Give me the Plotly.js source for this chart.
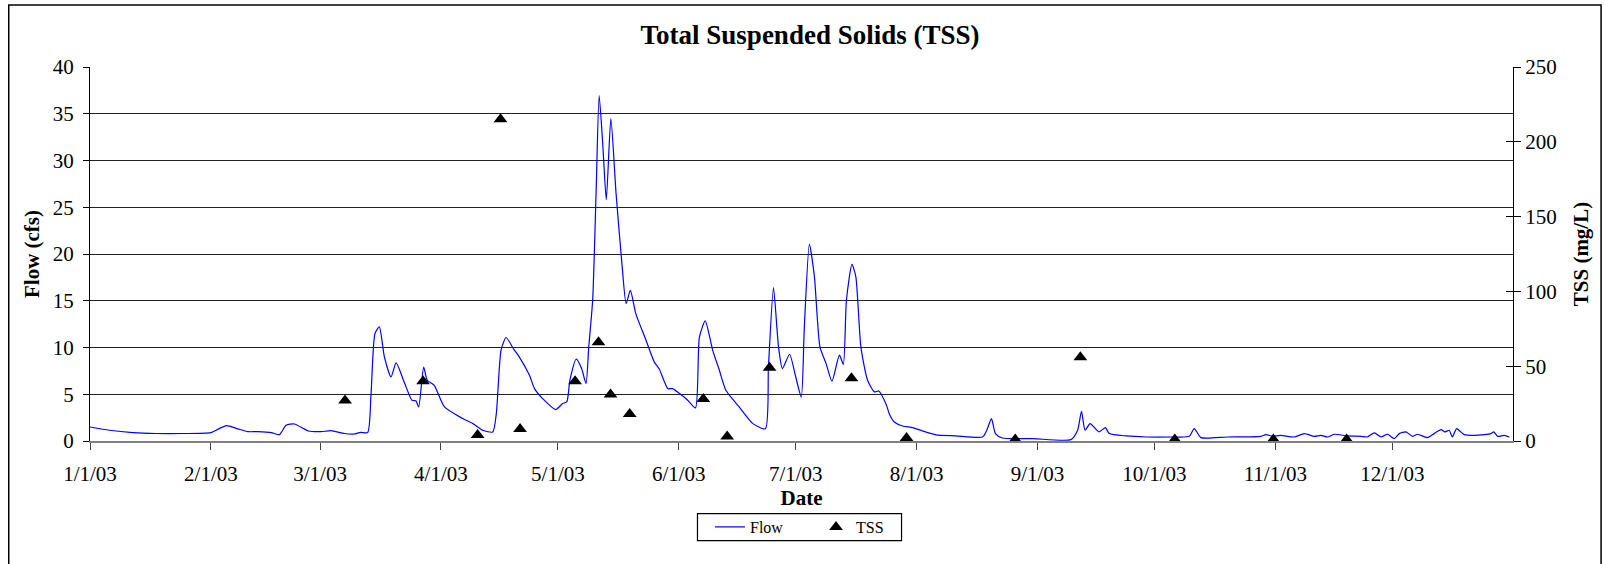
<!DOCTYPE html>
<html>
<head>
<meta charset="utf-8">
<script src="https://cdn.plot.ly/plotly-3.0.1.min.js"></script>
<style>html,body{margin:0;padding:0;background:#fff;}#chart{width:1604px;height:564px;}</style>
</head>
<body>
<div id="chart"></div>
<script>
// Daily flow (cfs)
const flowDates = [
"2003-01-01","2003-01-06","2003-01-12","2003-01-18","2003-01-25",
"2003-02-01","2003-02-03","2003-02-05","2003-02-07 22:00","2003-02-10 12:00","2003-02-13","2003-02-16 12:00","2003-02-18 14:00","2003-02-20 07:00","2003-02-22 10:00","2003-02-26",
"2003-03-01 07:00","2003-03-03 19:00","2003-03-07 07:00","2003-03-09 19:00","2003-03-11 10:00","2003-03-13 05:00","2003-03-14 02:00","2003-03-15 02:00","2003-03-16 05:00","2003-03-17 12:00","2003-03-19 05:00","2003-03-20 12:00","2003-03-22 14:00","2003-03-24 14:00","2003-03-25 14:00","2003-03-26 07:00","2003-03-27 14:00","2003-03-28 12:00","2003-03-30 07:00",
"2003-04-01 22:00","2003-04-06 14:00","2003-04-09 05:00","2003-04-11 17:00","2003-04-14 07:00","2003-04-15 05:00","2003-04-16 10:00","2003-04-17 17:00","2003-04-19 17:00","2003-04-21 02:00","2003-04-23 17:00","2003-04-25","2003-04-27 02:00","2003-04-30 10:00",
"2003-05-02 05:00","2003-05-03 07:00","2003-05-04 02:00","2003-05-05 17:00","2003-05-07 02:00","2003-05-08 05:00","2003-05-08 22:00","2003-05-09 22:00","2003-05-10 19:00","2003-05-11 14:00","2003-05-12 12:00","2003-05-13 10:00","2003-05-14 14:00","2003-05-15 22:00","2003-05-17 12:00","2003-05-18 12:00","2003-05-19 14:00","2003-05-21","2003-05-23 14:00","2003-05-25 17:00","2003-05-27","2003-05-29 05:00","2003-05-30 10:00",
"2003-06-01 05:00","2003-06-03 07:00","2003-06-05 07:00","2003-06-06 07:00","2003-06-07 19:00","2003-06-09 17:00","2003-06-11 10:00","2003-06-13 02:00","2003-06-16 12:00","2003-06-20","2003-06-23 05:00","2003-06-24","2003-06-25 07:00","2003-06-26 14:00","2003-06-27 14:00","2003-06-29 10:00",
"2003-07-01","2003-07-02 10:00","2003-07-03 05:00","2003-07-04 12:00","2003-07-05 19:00","2003-07-07 05:00","2003-07-08 19:00","2003-07-10 07:00","2003-07-12 05:00","2003-07-13 05:00","2003-07-14","2003-07-15 10:00","2003-07-16 10:00","2003-07-17 17:00","2003-07-19 10:00","2003-07-21 05:00","2003-07-22 07:00","2003-07-24 05:00","2003-07-25","2003-07-26 07:00","2003-07-28 10:00","2003-07-31",
"2003-08-02 12:00","2003-08-06","2003-08-11","2003-08-17 22:00","2003-08-19","2003-08-20 05:00","2003-08-21 05:00","2003-08-23","2003-08-30 22:00",
"2003-09-09 14:00","2003-09-11 07:00","2003-09-12 07:00","2003-09-13 05:00","2003-09-14 12:00","2003-09-16 19:00","2003-09-18 10:00","2003-09-19 10:00","2003-09-23 17:00","2003-09-28 19:00",
"2003-10-05 14:00","2003-10-09 22:00","2003-10-11 05:00","2003-10-12 22:00","2003-10-19 17:00","2003-10-28 07:00","2003-10-29 14:00","2003-10-31 07:00",
"2003-11-02 10:00","2003-11-05 19:00","2003-11-08 10:00","2003-11-11","2003-11-12 17:00","2003-11-14 10:00","2003-11-16 02:00","2003-11-19 12:00","2003-11-22 22:00","2003-11-24 14:00","2003-11-26 10:00","2003-11-28 02:00","2003-11-29 19:00",
"2003-12-01 12:00","2003-12-02 19:00","2003-12-04 12:00","2003-12-06 05:00","2003-12-07 12:00","2003-12-10","2003-12-11 17:00","2003-12-13 12:00","2003-12-14 12:00","2003-12-15 14:00","2003-12-16 10:00","2003-12-17 12:00","2003-12-19 10:00","2003-12-22","2003-12-24 14:00","2003-12-26 07:00","2003-12-27","2003-12-28","2003-12-29 17:00","2003-12-31"
];
const flowValues = [
1.5,1.15,0.9,0.8,0.8,
0.9,1.3,1.65,1.3,1.0,1.0,0.9,0.68,1.68,1.82,1.07,
1.0,1.1,0.8,0.75,0.93,0.9,5.07,11.5,12.2,9.0,6.85,8.35,6.3,4.36,4.3,3.64,7.9,6.5,5.96,
3.64,2.4,1.86,1.15,0.97,2.93,9.7,11.07,9.8,9.0,7.03,5.6,4.54,3.36,
4.0,4.2,6.5,8.75,7.75,6.14,10.07,15.06,26.5,36.94,31.8,25.8,34.5,26.5,18.6,14.7,16.1,13.6,10.8,8.46,7.7,5.6,5.6,
5.07,4.36,3.54,11.1,12.85,9.7,7.57,5.43,3.64,1.86,1.3,7.9,16.4,10.07,7.75,9.28,
6.85,4.7,12.2,21.06,17.56,10.07,8.28,6.4,9.18,8.2,15.06,18.9,17.56,10.07,6.5,5.25,5.35,3.9,2.9,2.03,1.6,1.43,
1.07,0.65,0.55,0.43,1.15,2.4,0.79,0.32,0.25,
0.15,1.15,3.18,1.15,1.86,0.97,1.43,0.79,0.54,0.43,
0.43,0.5,1.33,0.36,0.43,0.5,0.68,0.5,
0.6,0.43,0.79,0.5,0.6,0.43,0.72,0.54,0.5,0.43,0.86,0.43,0.72,
0.25,0.79,0.97,0.5,0.72,0.36,0.79,1.22,0.97,1.15,0.43,1.33,0.68,0.6,0.68,0.79,0.97,0.5,0.6,0.43
];
// TSS samples (mg/L)
const tssDates = ["2003-03-07 10:00","2003-03-27 10:00","2003-04-10 10:00","2003-04-16 07:00","2003-04-21 07:00","2003-05-05 10:00","2003-05-11 10:00","2003-05-14 12:00","2003-05-19 10:00","2003-06-07 07:00","2003-06-13 10:00","2003-06-24 07:00","2003-07-15 07:00","2003-07-29 10:00","2003-08-26 07:00","2003-09-12","2003-10-06 05:00","2003-10-31 12:00","2003-11-19 07:00"];
const tssValues = [27,40,4,215,8,40,66,31,18,28,3,49,42,2,1,56,1,1,1];
// Axis ticks
const monthTicks = ["2003-01-01","2003-02-01","2003-03-01","2003-04-01","2003-05-01","2003-06-01","2003-07-01","2003-08-01","2003-09-01","2003-10-01","2003-11-01","2003-12-01"];
const monthLabels = ["1/1/03","2/1/03","3/1/03","4/1/03","5/1/03","6/1/03","7/1/03","8/1/03","9/1/03","10/1/03","11/1/03","12/1/03"];

const serif = "Liberation Serif, Times New Roman, serif";

const traces = [
  {x: flowDates, y: flowValues, name: "Flow", type: "scatter", mode: "lines",
   line: {color: "#0000FF", width: 1.2, shape: "spline", smoothing: 0.6}, yaxis: "y"},
  {x: tssDates, y: tssValues, name: "TSS", type: "scatter", mode: "markers",
   marker: {symbol: "triangle-up", size: 12, color: "#000"}, yaxis: "y2"}
];

// frame coordinates in paper units
const L = -0.0571, R = 1.0619, T = 1.1659, B = -0.34;
const LGx0 = 0.4269, LGx1 = 0.5703, LGy0 = -0.2665, LGy1 = -0.1943;

const layout = {
  width: 1604, height: 564,
  margin: {l: 90, r: 91, t: 67, b: 123},
  paper_bgcolor: "#fff", plot_bgcolor: "#fff",
  font: {family: serif, color: "#000", size: 21},
  title: {text: "<b>Total Suspended Solids (TSS)</b>", font: {family: serif, size: 27, color: "#000"},
          x: 0.505, xref: "container", y: 0.9395, yref: "container", xanchor: "center", yanchor: "middle"},
  showlegend: true,
  legend: {orientation: "h", x: 710 / 1604, xanchor: "left", xref: "container", y: 37 / 564, yref: "container", yanchor: "middle",
           borderwidth: 0, bgcolor: "rgba(0,0,0,0)", font: {family: serif, size: 16, color: "#000"},
           itemwidth: 30, entrywidth: 61, tracegroupgap: 0},
  xaxis: {type: "date", range: ["2003-01-01", "2003-12-31 23:00"], tickvals: monthTicks, ticktext: monthLabels,
          ticks: "outside", ticklen: 7, tickcolor: "#444", tickwidth: 1, ticklabelstandoff: 6,
          showline: true, linecolor: "#808080", linewidth: 2, showgrid: false, zeroline: false,
          tickfont: {family: serif, size: 21, color: "#000"},
          title: {text: "<b>Date</b>", font: {family: serif, size: 21, color: "#000"}, standoff: 0}},
  yaxis: {range: [0, 40], dtick: 5, tick0: 0, ticks: "outside", ticklen: 6, tickcolor: "#000", ticklabelstandoff: 5,
          showline: true, linecolor: "#000", linewidth: 1, showgrid: true, gridcolor: "#222", gridwidth: 1,
          zeroline: false, tickfont: {family: serif, size: 21, color: "#000"},
          title: {text: "<b>Flow (cfs)</b>", font: {family: serif, size: 21, color: "#000"}, standoff: 7}},
  yaxis2: {range: [0, 250], dtick: 50, tick0: 0, overlaying: "y", side: "right", anchor: "x",
           ticks: "outside", ticklen: 7, tickcolor: "#000", showline: true, linecolor: "#000", linewidth: 1,
           showgrid: false, zeroline: false, tickfont: {family: serif, size: 21, color: "#000"},
           title: {text: "<b>TSS (mg/L)</b>", font: {family: serif, size: 21, color: "#000"}, standoff: 17}},
  yaxis3: {range: [0, 250], dtick: 50, tick0: 0, overlaying: "y", side: "right", anchor: "x",
           ticks: "inside", ticklen: 7, tickcolor: "#000", showticklabels: false, showline: false,
           showgrid: false, zeroline: false},
  shapes: [
    {type: "rect", xref: "paper", yref: "paper", x0: L, x1: R, y0: B, y1: T, line: {color: "#000", width: 1.5}, fillcolor: "rgba(0,0,0,0)", layer: "below"},
    {type: "rect", xref: "paper", yref: "paper", x0: LGx0, x1: LGx1, y0: LGy0, y1: LGy1, line: {color: "#000", width: 1.2}, fillcolor: "rgba(0,0,0,0)", layer: "below"}
  ]
};

// invisible helper trace so the crossing tick marks of the right axis are drawn
traces.push({x: [monthTicks[0]], y: [0], yaxis: "y3", mode: "markers", marker: {opacity: 0}, showlegend: false, hoverinfo: "skip"});

Plotly.newPlot("chart", traces, layout, {displayModeBar: false, staticPlot: true});
</script>
</body>
</html>
